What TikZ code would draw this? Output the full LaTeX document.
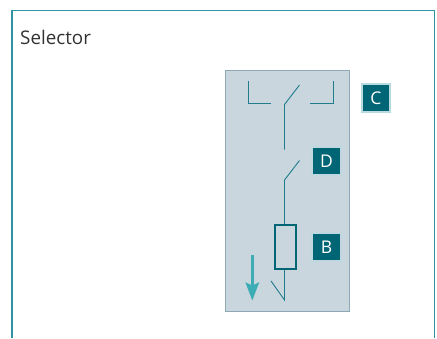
\documentclass[tikz,border=0pt]{standalone}
\usepackage{fontspec}
\setmainfont{Open Sans}
\usetikzlibrary{arrows.meta}
\definecolor{frameteal}{HTML}{2F93A3}
\definecolor{panelfill}{HTML}{C9D6DE}
\definecolor{panelline}{HTML}{8FA8B6}
\definecolor{wireteal}{HTML}{1F7C8C}
\definecolor{tagteal}{HTML}{006675}
\definecolor{taghalo}{HTML}{B9DADF}
\definecolor{arrowteal}{HTML}{3DADB5}
\definecolor{labelgray}{HTML}{333333}
\tikzset{
  x=1pt,y=-1pt,
  wire/.style={draw=wireteal,line width=0.9pt,line join=miter},
  tagbox/.style={fill=tagteal,draw=taghalo,line width=1.6pt,text=white,minimum size=28.5pt,inner sep=0pt,font=\fontsize{17.5}{20}\selectfont},
  title/.style={text=labelgray,anchor=base west,inner sep=0pt,font=\fontsize{18.8}{22}\selectfont},
  panel/.style={fill=panelfill,draw=panelline,line width=0.8pt},
  fuse/.style={draw=tagteal,line width=2.2pt,fill=none},
  frameline/.style={draw=frameteal,line width=1.5pt,line join=miter}
}
\begin{document}
\begin{tikzpicture}
\useasboundingbox (0,0) rectangle (437,338);
\fill[white] (0,0) rectangle (437,338);
\coordinate (fbl) at (12,338);
\coordinate (ftl) at (12,10.5);
\coordinate (ftr) at (434.5,10.5);
\coordinate (fbr) at (434.5,338);
\draw[frameline] (fbl) -- (ftl) -- (ftr) -- (fbr);
\node[title] (selector) at (20,44) {Selector};
\node[panel,minimum width=124pt,minimum height=241.5pt,inner sep=0pt] (panel) at (287,190.75) {};
\coordinate (lt) at (248,81);
\coordinate (lc) at (248,103.5);
\coordinate (le) at (270.5,103.5);
\coordinate (rt) at (333,81);
\coordinate (rc) at (333,103.5);
\coordinate (re) at (310,103.5);
\coordinate (b1t) at (299.5,85);
\coordinate (b1p) at (284.5,104.5);
\coordinate (b1e) at (284.5,149.5);
\coordinate (b2t) at (299.5,160.5);
\coordinate (b2p) at (284.5,180);
\node[fuse,minimum width=21pt,minimum height=44pt,inner sep=0pt] (fuse) at (285.5,247) {};
\coordinate (tip) at (284.5,300);
\coordinate (tipe) at (271,281);
\draw[wire] (lt) -- (lc) -- (le);
\draw[wire] (rt) -- (rc) -- (re);
\draw[wire] (b1t) -- (b1p) -- (b1e);
\draw[wire] (b2t) -- (b2p) -- (b2p |- fuse.north);
\draw[wire] (fuse.south -| tip) -- (tip) -- (tipe);
\coordinate (as) at (252.3,255);
\coordinate (ae) at (252.3,300.5);
\draw[arrowteal,line width=2.4pt,-{Stealth[length=18pt,width=13.5pt,inset=3pt]}] (as) -- (ae);
\node[tagbox] (C) at (376,98) {C};
\node[tagbox,draw=taghalo!60!panelfill] (D) at (326.5,161) {D};
\node[tagbox,draw=taghalo!60!panelfill] (B) at (326.5,247) {B};
\end{tikzpicture}
\end{document}
